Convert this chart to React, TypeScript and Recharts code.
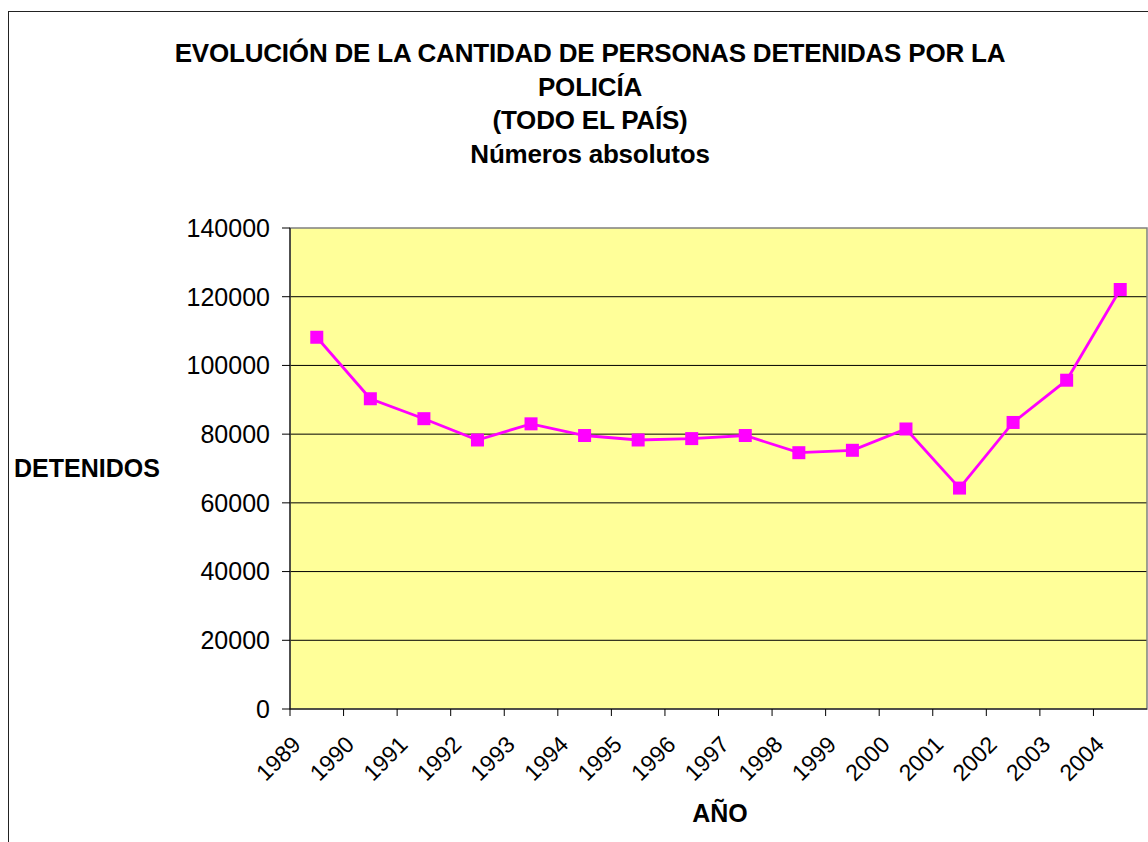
import React from "react";
import {
  LineChart,
  Line,
  XAxis,
  YAxis,
  CartesianGrid,
  ReferenceArea,
} from "recharts";

const YEARS = [
  "1989", "1990", "1991", "1992", "1993", "1994", "1995", "1996",
  "1997", "1998", "1999", "2000", "2001", "2002", "2003", "2004",
];

const DETENIDOS = [
  108200, 90300, 84500, 78300, 83000, 79600, 78300, 78700,
  79600, 74600, 75300, 81500, 64300, 83400, 95700, 122100,
];

const Y_TICKS = [0, 20000, 40000, 60000, 80000, 100000, 120000, 140000];

const TITLE_LINES = [
  "EVOLUCIÓN DE LA CANTIDAD DE PERSONAS DETENIDAS POR LA",
  "POLICÍA",
  "(TODO EL PAÍS)",
  "Números absolutos",
];

// each year sits in the middle of its slot, ticks sit on the slot edges
const data = YEARS.map((year, i) => ({
  slot: i + 0.5,
  year,
  detenidos: DETENIDOS[i],
}));

const FONT = '"Liberation Sans", Arial, sans-serif';

const SquareDot = (props: any) => {
  const { cx, cy } = props;
  if (cx == null || cy == null) return null;
  return <rect x={cx - 6.5} y={cy - 6.5} width={13} height={13} fill="#FF00FF" />;
};

const YearTick = (props: any) => {
  const { x, y, payload } = props;
  const label = YEARS[payload.value];
  if (!label) return null;
  const ax = x + 12;
  const ay = y + 28;
  return (
    <text
      x={ax}
      y={ay}
      textAnchor="end"
      fontSize={23}
      fontFamily={FONT}
      fill="#000"
      transform={`rotate(-45 ${ax} ${ay})`}
    >
      {label}
    </text>
  );
};

export default function App() {
  return (
    <div
      style={{
        position: "absolute",
        left: 0,
        top: 0,
        width: 1148,
        height: 842,
        overflow: "hidden",
        background: "#fff",
      }}
    >
      <div
        style={{
          position: "absolute",
          left: 8,
          top: 11,
          width: 1300,
          height: 1000,
          border: "1px solid #222",
        }}
      />
      <div style={{ position: "absolute", left: 0, top: 0 }}>
        <LineChart
          width={1148}
          height={842}
          data={data}
          margin={{ top: 228, right: 1, bottom: 0, left: 0 }}
        >
          <CartesianGrid
            vertical={false}
            stroke="#000"
            fill="#FFFF99"
            fillOpacity={1}
            horizontalValues={Y_TICKS.slice(1, -1)}
          />
          <ReferenceArea
            x1={0}
            x2={YEARS.length}
            y1={0}
            y2={140000}
            fill="none"
            stroke="#808080"
            strokeWidth={1.5}
          />
          <XAxis
            type="number"
            dataKey="slot"
            domain={[0, YEARS.length]}
            ticks={YEARS.map((_, i) => i)}
            interval={0}
            height={133}
            tickSize={7}
            tickMargin={2}
            stroke="#000"
            tick={<YearTick />}
          />
          <YAxis
            domain={[0, 140000]}
            ticks={Y_TICKS}
            interval={0}
            width={290}
            tickSize={8}
            tickMargin={12}
            stroke="#000"
            tick={{ fontSize: 25, fill: "#000", fontFamily: FONT }}
          />
          <Line
            type="linear"
            dataKey="detenidos"
            stroke="#FF00FF"
            strokeWidth={2.8}
            dot={<SquareDot />}
            activeDot={false}
            isAnimationActive={false}
          />
        </LineChart>
      </div>
      <svg
        width={1148}
        height={842}
        style={{ position: "absolute", left: 0, top: 0, pointerEvents: "none" }}
      >
        {TITLE_LINES.map((line, i) => (
          <text
            key={i}
            x={590}
            y={62 + i * 33.7}
            textAnchor="middle"
            fontSize={26}
            fontWeight="bold"
            fontFamily={FONT}
            fill="#000"
            letterSpacing={-0.2}
          >
            {line}
          </text>
        ))}
        <text x={14} y={477} fontSize={25} fontWeight="bold" fontFamily={FONT} fill="#000">
          DETENIDOS
        </text>
        <text
          x={720}
          y={822}
          textAnchor="middle"
          fontSize={25}
          fontWeight="bold"
          fontFamily={FONT}
          fill="#000"
        >
          AÑO
        </text>
      </svg>
    </div>
  );
}
